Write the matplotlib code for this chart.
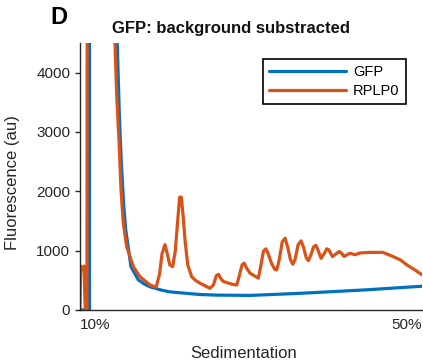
import matplotlib
matplotlib.use("Agg")
import matplotlib.pyplot as plt

plt.rcParams["font.family"] = ["Liberation Sans", "DejaVu Sans"]

# ------------------------------------------------------------
# 데이터 (그림에서 읽은 값, x = 침강 위치 %)
# ------------------------------------------------------------
gfp_x = [10.0, 11.11, 11.17, 12.5, 14.1, 14.36, 14.6, 14.83, 15.1, 15.35,
         15.7, 15.96, 16.82, 17.6, 18.2, 18.8, 19.5, 20.5, 22.05, 24.04,
         26.0, 29.9, 35.7, 43.6, 50.0]
gfp_y = [0, 0, 30000, 30000, 5300, 4500, 3300, 2500, 1800, 1350,
         1000, 730, 507, 430, 390, 365, 335, 305, 285, 260,
         250, 245, 280, 340, 400]

rplp0_x = [10.0, 10.08, 10.32, 10.47, 10.62, 10.82, 10.97, 12.5, 13.9, 14.09,
           14.3, 14.56, 14.8, 15.06, 15.46, 16.23, 17.02, 18.19, 18.9, 19.3,
           19.6, 19.94, 20.2, 20.5, 20.84, 21.15, 21.45, 21.65, 21.85, 22.05,
           22.3, 22.6, 23.06, 23.5, 24.04, 25.2, 25.6, 25.95, 26.2, 26.5,
           26.76, 27.74, 28.33, 28.6, 28.95, 29.2, 29.5, 29.88, 30.85, 31.15,
           31.45, 31.72, 32.0, 32.4, 32.8, 33.01, 33.3, 33.65, 33.98, 34.3,
           34.6, 34.88, 35.15, 35.5, 35.85, 36.15, 36.45, 36.7, 37.0, 37.3,
           37.57, 37.85, 38.19, 38.55, 38.85, 39.1, 39.51, 39.9, 40.33, 40.6,
           40.88, 41.2, 41.58, 42.16, 42.75, 43.9, 45.4, 46.6, 47.5, 48.2,
           49.2, 50.0]
rplp0_y = [0, 740, 680, 740, 0, 0, 30000, 30000, 5200, 4500,
           3600, 2870, 2030, 1470, 1070, 730, 560, 420, 385, 600,
           950, 1100, 950, 760, 730, 1000, 1550, 1900, 1900, 1600,
           1150, 760, 560, 500, 450, 365, 420, 580, 600, 520,
           480, 435, 420, 560, 760, 790, 700, 620, 535, 750,
           990, 1030, 950, 780, 680, 675, 850, 1150, 1210, 1050,
           850, 770, 850, 1100, 1165, 1050, 880, 830, 930, 1060,
           1090, 1000, 870, 950, 1030, 1010, 900, 940, 985, 950,
           900, 930, 955, 930, 960, 970, 970, 900, 840, 760,
           670, 590]

y_ticks = [0, 1000, 2000, 3000, 4000]
x_tick_pos = [10, 50]
x_tick_labels = ["10%", "50%"]

# ------------------------------------------------------------
# 그리기
# ------------------------------------------------------------
fig = plt.figure(figsize=(4.23, 3.6), dpi=100)
ax = fig.add_axes([0.189, 0.139, 0.809, 0.742])

ax.plot(gfp_x, gfp_y, color="#0072BD", lw=2.3, label="GFP",
        solid_joinstyle="round", solid_capstyle="round")
ax.plot(rplp0_x, rplp0_y, color="#D95319", lw=2.3, label="RPLP0",
        solid_joinstyle="round", solid_capstyle="round")

ax.set_xlim(10, 50)
ax.set_ylim(0, 4500)
ax.set_yticks(y_ticks)
ax.set_xticks(x_tick_pos)
ax.set_xticklabels(x_tick_labels)
labels = ax.get_xticklabels()
labels[0].set_horizontalalignment("left")
labels[1].set_horizontalalignment("right")

ax.tick_params(axis="y", direction="out", length=3.5, width=1, labelsize=11, colors="#262626")
ax.tick_params(axis="x", length=0, labelsize=11, pad=6, colors="#262626")

for side in ["top", "right"]:
    ax.spines[side].set_visible(False)
for side in ["left", "bottom"]:
    ax.spines[side].set_color("#262626")
    ax.spines[side].set_linewidth(1.0)

ax.set_ylabel("Fluorescence (au)", fontsize=12, color="#262626")
ax.yaxis.set_label_coords(-0.175, 0.476)
ax.set_xlabel("Sedimentation", fontsize=12, color="#262626")
ax.xaxis.set_label_coords(0.478, -0.135)

leg = ax.legend(loc="upper right", bbox_to_anchor=(0.953, 0.94), borderaxespad=0,
                fontsize=10.5, handlelength=5.3, handletextpad=0.45,
                labelspacing=0.3, borderpad=0.45, fancybox=False, framealpha=1)
leg.get_frame().set_edgecolor("black")
leg.get_frame().set_linewidth(1.2)

fig.text(231 / 423, 1 - 29 / 360, "GFP: background substracted", ha="center", va="center",
         fontsize=12, fontweight="bold", color="#111111")
fig.text(59 / 423, 1 - 18 / 360, "D", ha="center", va="center",
         fontsize=17, fontweight="bold", color="black")

plt.savefig("out.png", dpi=100)
plt.close()
